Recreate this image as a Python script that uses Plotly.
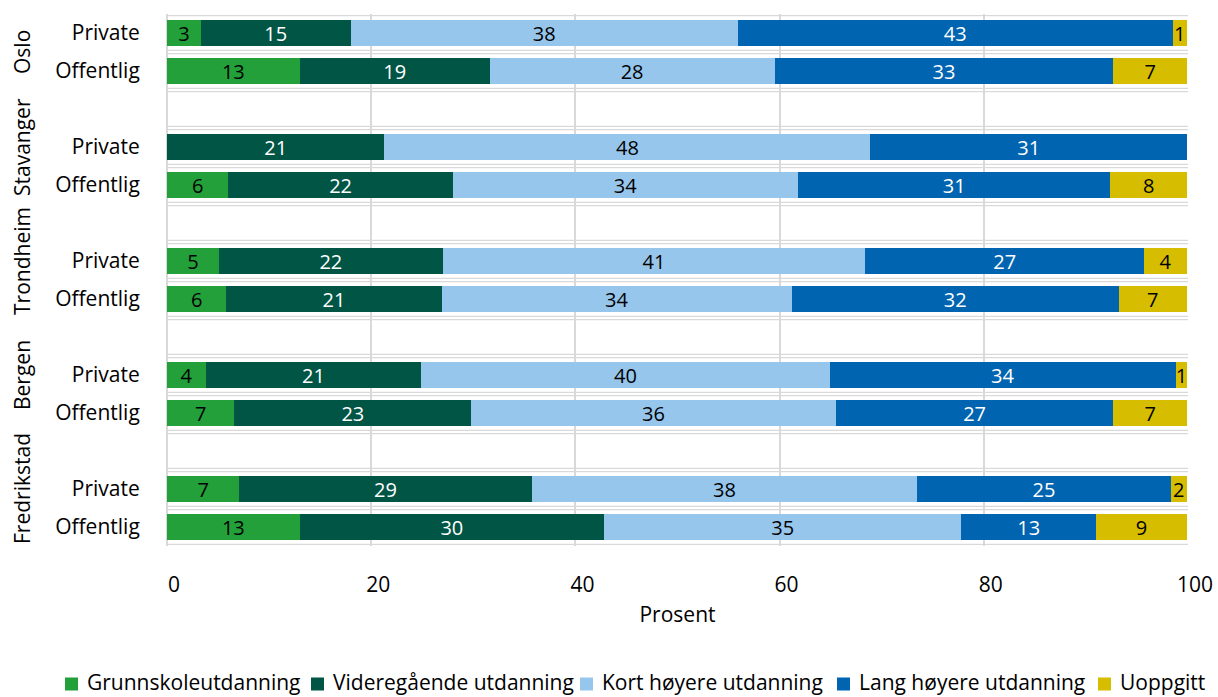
import plotly.graph_objects as go

# ---- data ----
cities = ["Oslo", "Stavanger", "Trondheim", "Bergen", "Fredrikstad"]
sectors = ["Private", "Offentlig"]
series_names = ["Grunnskoleutdanning", "Videregående utdanning",
                "Kort høyere utdanning", "Lang høyere utdanning", "Uoppgitt"]
# values per bar, order: Oslo Private, Oslo Offentlig, Stavanger Private, ...
grunnskole    = [3.3, 13.0, None, 6.0, 5.1, 5.8, 3.8, 6.6, 7.1, 13.0]
videregaaende = [14.7, 18.6, 21.3, 22.0, 21.9, 21.1, 21.1, 23.2, 28.6, 29.8]
kort_hoyere   = [37.9, 27.9, 47.6, 33.8, 41.4, 34.3, 40.0, 35.7, 37.8, 35.0]
lang_hoyere   = [42.6, 33.2, 31.0, 30.6, 27.3, 32.0, 33.9, 27.2, 24.8, 13.2]
uoppgitt      = [1.4, 7.2, None, 7.5, 4.2, 6.7, 1.1, 7.2, 1.6, 8.9]
x_ticks = [0, 20, 40, 60, 80, 100]
x_title = "Prosent"

series_values = [grunnskole, videregaaende, kort_hoyere, lang_hoyere, uoppgitt]
colors = ["#23a03a", "#005545", "#96c6eb", "#0064b0", "#d7bd00"]
text_colors = ["#000000", "#ffffff", "#000000", "#ffffff", "#000000"]

# ---- layout geometry (pixels) ----
W, H = 1218, 697
L, R, T, B = 167, 30, 14, 151
pw, ph = W - L - R, H - T - B
FONT = "Open Sans"
FS = 21

def px_x(px):
    return (px - L) / pw

def px_y(py):
    return (H - B - py) / ph

# slot positions: each city gets 2 bars, with an empty slot between cities
slot_y = []
ticktext = []
for gi, c in enumerate(cities):
    for si, s in enumerate(sectors):
        slot_y.append(gi * 3 + si)
        ticktext.append(s)

fig = go.Figure()
for name, vals, col, tcol in zip(series_names, series_values, colors, text_colors):
    fig.add_trace(go.Bar(
        y=slot_y, x=vals, name=name, orientation="h",
        marker=dict(color=col, line=dict(width=0)),
        width=0.66,
        texttemplate="%{x:.0f}", textposition="inside",
        insidetextanchor="middle", textangle=0,
        insidetextfont=dict(color=tcol, size=20, family=FONT),
        showlegend=False, cliponaxis=False,
    ))

n_slots = slot_y[-1] + 1
shapes = []
off = 1.7 / 38.0
for k in range(n_slots + 1):
    b = k - 0.5
    for d in (-off, off):
        shapes.append(dict(type="line", xref="paper", yref="y", x0=0, x1=1,
                           y0=b + d, y1=b + d, layer="below",
                           line=dict(color="#d9d9d9", width=1.3)))

annotations = []
# city labels (group spans the blank slot above, except the first)
for gi, c in enumerate(cities):
    yc = 0.5 if gi == 0 else gi * 3
    annotations.append(dict(text=c, x=px_x(22), xref="paper", y=yc, yref="y",
                            textangle=-90, showarrow=False, xanchor="center",
                            yanchor="middle",
                            font=dict(size=FS, family=FONT, color="#000000")))

# manual legend
legend_text_x = [85, 331, 600, 857, 1118]
legend_y = 682
for name, col, tx in zip(series_names, colors, legend_text_x):
    shapes.append(dict(type="rect", xref="paper", yref="paper",
                       x0=px_x(tx - 20), x1=px_x(tx - 7),
                       y0=px_y(legend_y + 8.5), y1=px_y(legend_y - 4.5),
                       fillcolor=col, line=dict(width=0)))
    annotations.append(dict(text=name, x=px_x(tx), xref="paper",
                            y=px_y(legend_y), yref="paper", showarrow=False,
                            xanchor="left", yanchor="middle",
                            font=dict(size=FS, family=FONT, color="#000000")))

fig.update_layout(
    barmode="stack",
    width=W, height=H,
    margin=dict(l=L, r=R, t=T, b=B, pad=0, autoexpand=False),
    paper_bgcolor="white", plot_bgcolor="white",
    font=dict(family=FONT, size=FS, color="#000000"),
    uniformtext=dict(minsize=20, mode="show"),
    shapes=shapes, annotations=annotations,
    xaxis=dict(range=[0, 100], tickvals=x_ticks, showgrid=True,
               gridcolor="#d9d9d9", gridwidth=2, zeroline=True,
               zerolinecolor="#d9d9d9", zerolinewidth=2,
               ticks="outside", ticklen=20, tickcolor="rgba(0,0,0,0)",
               ticklabelshift=7, automargin=False,
               tickfont=dict(size=FS, family=FONT, color="#000000"),
               title=dict(text=x_title, standoff=10,
                          font=dict(size=FS, family=FONT, color="#000000")),
               fixedrange=True),
    yaxis=dict(range=[n_slots - 0.5, -0.5], tickvals=slot_y, ticktext=ticktext,
               showgrid=False, zeroline=False, automargin=False,
               ticks="outside", ticklen=22, tickcolor="rgba(0,0,0,0)",
               tickfont=dict(size=FS, family=FONT, color="#000000"),
               fixedrange=True),
)

fig.write_html("out.html",
               config={"displayModeBar": False},
               post_script="document.body.style.margin='0';document.body.style.padding='0';")
